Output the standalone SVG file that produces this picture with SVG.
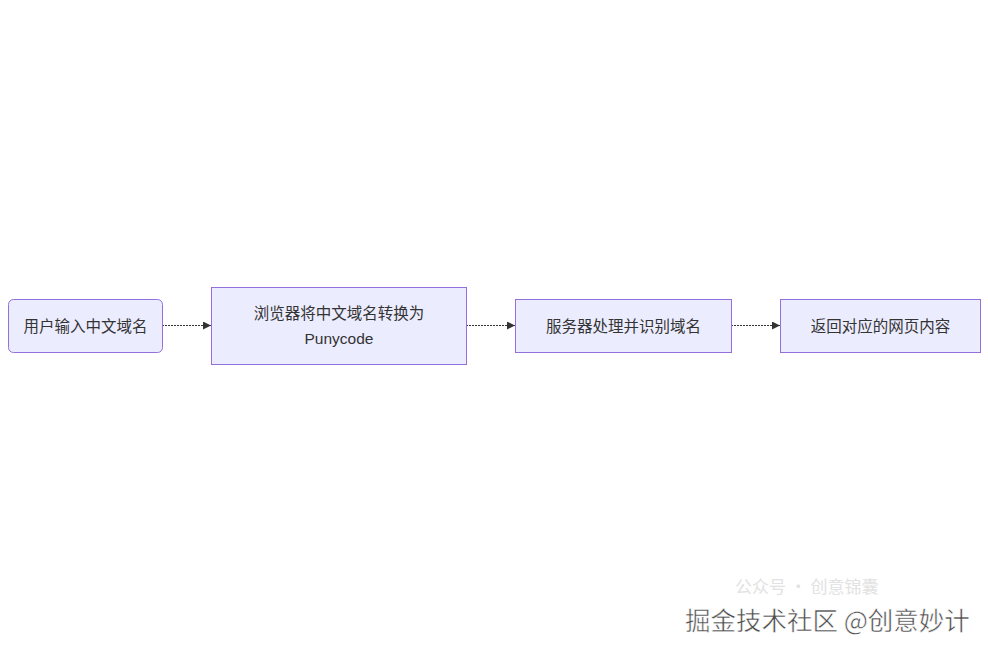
<svg xmlns="http://www.w3.org/2000/svg" width="988" height="652" viewBox="0 0 988 652">
<defs>
<style>
.node rect{fill:#ECECFF;stroke:#9370DB;stroke-width:1}
.label{font-family:"Liberation Sans","Noto Sans CJK SC",sans-serif;font-size:15.5px;fill:#333;text-anchor:middle;dominant-baseline:central}
.edge{stroke:#333;stroke-width:1;fill:none;stroke-dasharray:2 1}
.wm{font-family:"Noto Sans CJK SC",sans-serif;text-anchor:start}
</style>
<marker id="arrow" viewBox="0 0 10 10" refX="10" refY="5" markerWidth="8" markerHeight="8" markerUnits="userSpaceOnUse" orient="auto">
<path d="M0,0 L10,5 L0,10 z" fill="#333"/>
</marker>
</defs>
<rect width="988" height="652" fill="#fff"/>
<g id="edges">
<line class="edge" x1="162" y1="325.5" x2="211" y2="325.5" marker-end="url(#arrow)"/>
<line class="edge" x1="466" y1="325.5" x2="515" y2="325.5" marker-end="url(#arrow)"/>
<line class="edge" x1="731" y1="325.5" x2="780" y2="325.5" marker-end="url(#arrow)"/>
</g>
<g id="n1" class="node">
<rect x="8.5" y="299.5" width="154" height="53" rx="5"/>
<text class="label" x="85.5" y="326">用户输入中文域名</text>
</g>
<g id="n2" class="node">
<rect x="211.5" y="287.5" width="255" height="77"/>
<text class="label" x="339" y="313.5">浏览器将中文域名转换为</text>
<text class="label" x="339" y="338.5">Punycode</text>
</g>
<g id="n3" class="node">
<rect x="515.5" y="299.5" width="216" height="53"/>
<text class="label" x="623.5" y="326">服务器处理并识别域名</text>
</g>
<g id="n4" class="node">
<rect x="780.5" y="299.5" width="200" height="53"/>
<text class="label" x="880.5" y="326">返回对应的网页内容</text>
</g>
<g id="watermark">
<text class="wm" x="735" y="593" font-size="17" fill="#e2e2e2">公众号 · 创意锦囊</text>
<text class="wm" x="685" y="630" font-size="25.5" fill="#4a4a4a" stroke="#fff" stroke-width="0.5">掘金技术社区 @创意妙计</text>
</g>
</svg>
